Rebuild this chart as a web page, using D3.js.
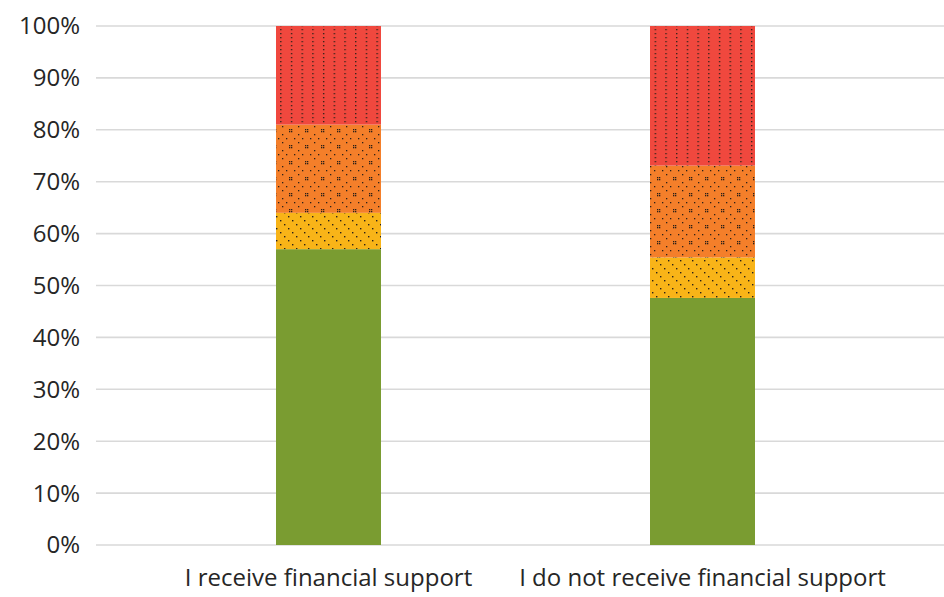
<!DOCTYPE html>
<html>
<head>
<meta charset="utf-8">
<script src="https://cdn.jsdelivr.net/npm/d3@7"></script>
<style>
  html, body { margin: 0; padding: 0; background: #fff; }
  svg { display: block; }
  text { font-family: "Open Sans", "Noto Sans", sans-serif; fill: #262626; }
</style>
</head>
<body>
<svg id="chart" width="944" height="597"></svg>
<script>
// Response groups on the x axis
const categories = ["I receive financial support", "I do not receive financial support"];
// Stacked shares (percent), bottom to top
const greenValues  = [57.0, 47.6];
const yellowValues = [7.0, 7.8];
const orangeValues = [17.0, 17.7];
const redValues    = [19.0, 26.9];
const yTicks = [0, 10, 20, 30, 40, 50, 60, 70, 80, 90, 100];

const seriesKeys = ["green", "yellow", "orange", "red"];
const seriesValues = { green: greenValues, yellow: yellowValues, orange: orangeValues, red: redValues };
const fills = { green: "#7a9c31", yellow: "#f8b418", orange: "#f47f2a", red: "#f0483e" };

const rows = categories.map((c, i) => {
  const r = { category: c };
  seriesKeys.forEach(k => r[k] = seriesValues[k][i]);
  return r;
});

const svg = d3.select("#chart");
const plot = { left: 96, right: 944, top: 26, bottom: 545 };

const x = d3.scalePoint().domain(categories).range([141.5, 889.5]).padding(0.5);
const barWidth = 105;
const y = d3.scaleLinear().domain([0, 100]).range([plot.bottom, plot.top]);

// Fill patterns
const defs = svg.append("defs");
const dot = "#2a2018";

// red: dotted vertical columns
const pRed = defs.append("pattern").attr("id", "p-red").attr("patternUnits", "userSpaceOnUse")
  .attr("width", 10.7).attr("height", 4);
pRed.append("rect").attr("width", 10.7).attr("height", 4).attr("fill", fills.red);
pRed.append("rect").attr("x", 2).attr("y", 1).attr("width", 1.3).attr("height", 1.3).attr("fill", dot);

// orange: dotted diamond lattice
const pOr = defs.append("pattern").attr("id", "p-orange").attr("patternUnits", "userSpaceOnUse")
  .attr("width", 16).attr("height", 16);
pOr.append("rect").attr("width", 16).attr("height", 16).attr("fill", fills.orange);
[[1,1],[3,1],[1,3],[3,3],[10,6],[6,10],[14,10],[10,14]].forEach(([a,b]) =>
  pOr.append("rect").attr("x", a).attr("y", b).attr("width", 1.3).attr("height", 1.3).attr("fill", dot));

// yellow: dotted downward diagonals
const pYe = defs.append("pattern").attr("id", "p-yellow").attr("patternUnits", "userSpaceOnUse")
  .attr("width", 12).attr("height", 12);
pYe.append("rect").attr("width", 12).attr("height", 12).attr("fill", fills.yellow);
[[0,0],[4,4],[8,8]].forEach(([a,b]) =>
  pYe.append("rect").attr("x", a).attr("y", b).attr("width", 1.4).attr("height", 1.4).attr("fill", dot));

const patternFill = { green: fills.green, yellow: "url(#p-yellow)", orange: "url(#p-orange)", red: "url(#p-red)" };

// Gridlines
svg.append("g").selectAll("line").data(yTicks).join("line")
  .attr("x1", plot.left).attr("x2", plot.right)
  .attr("y1", d => y(d)).attr("y2", d => y(d))
  .attr("stroke", "#d9d9d9").attr("stroke-width", 1.6);

// Y tick labels
svg.append("g").selectAll("text").data(yTicks).join("text")
  .attr("x", 80).attr("y", d => y(d)).attr("dy", "0.35em")
  .attr("text-anchor", "end").attr("font-size", 24)
  .text(d => d + "%");

// Stacked bars
const stacked = d3.stack().keys(seriesKeys)(rows);
svg.append("g").selectAll("g").data(stacked).join("g")
  .attr("fill", d => patternFill[d.key])
  .selectAll("rect").data(d => d).join("rect")
  .attr("x", d => x(d.data.category) - barWidth / 2)
  .attr("width", barWidth)
  .attr("y", d => y(d[1]))
  .attr("height", d => y(d[0]) - y(d[1]));

// Category labels
svg.append("g").selectAll("text").data(categories).join("text")
  .attr("x", d => x(d)).attr("y", 586)
  .attr("text-anchor", "middle").attr("font-size", 24)
  .text(d => d);
</script>
</body>
</html>
